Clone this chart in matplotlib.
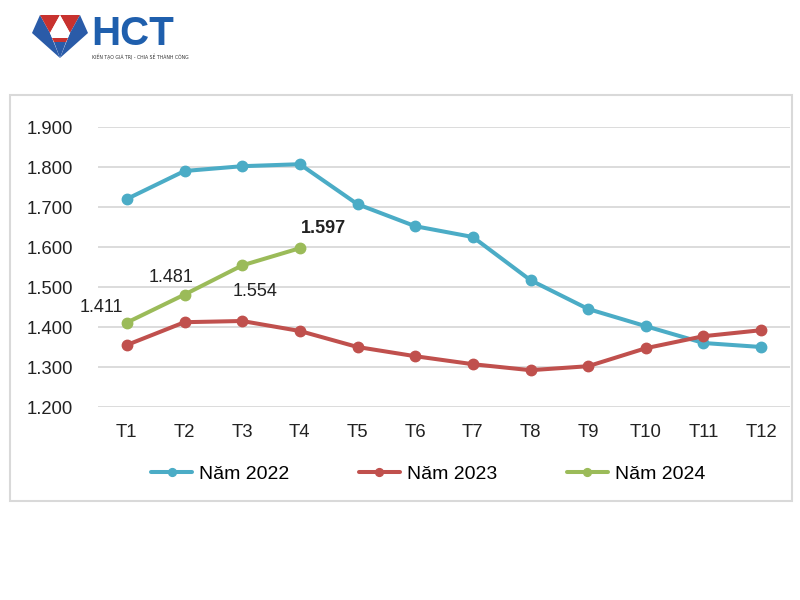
import matplotlib
matplotlib.use("Agg")
import matplotlib.pyplot as plt
from matplotlib.patches import Polygon, Rectangle

plt.rcParams["font.family"] = ["Liberation Sans", "DejaVu Sans"]

months = ["T1", "T2", "T3", "T4", "T5", "T6", "T7", "T8", "T9", "T10", "T11", "T12"]
y2022 = [1720, 1790, 1802, 1807, 1707, 1652, 1625, 1517, 1445, 1402, 1360, 1350]
y2023 = [1355, 1412, 1415, 1390, 1350, 1327, 1307, 1292, 1302, 1347, 1377, 1392]
y2024 = [1411, 1481, 1554, 1597]
series_names = ["Năm 2022", "Năm 2023", "Năm 2024"]
yticks = [1200, 1300, 1400, 1500, 1600, 1700, 1800, 1900]

colors = ["#4BACC6", "#C0504D", "#9BBB59"]


def fmt(v):
    # Vietnamese thousands separator
    return f"{v/1000:.3f}"


fig = plt.figure(figsize=(8, 6), dpi=100)

# background layer in pixel coords: frame + logo
bg = fig.add_axes([0, 0, 1, 1], zorder=0)
bg.set_xlim(0, 800)
bg.set_ylim(600, 0)
bg.axis("off")
bg.add_patch(Rectangle((10, 95), 782, 406, fill=False, edgecolor="#d9d9d9", linewidth=1.5))

L, A, M, B, R = (32, 33), (40, 15), (60, 15), (80, 15), (88, 33)
C1, C2, P = (50, 33), (70, 33), (60, 58)
red, blue = "#C8322F", "#2A5BA8"
for pts, c in [((L, A, C1), blue), ((A, M, C1), red), ((M, B, C2), red),
               ((B, R, C2), blue), ((M, C1, C2), "white"),
               ((L, C1, P), blue), ((C2, R, P), blue),
               ((C1, C2, (60, 42)), "white"), (((54, 42), (66, 42), P), blue),
               ((C1, (54, 42), (66, 42), C2), "white")]:
    bg.add_patch(Polygon(pts, closed=True, facecolor=c, edgecolor="none"))
bg.add_patch(Polygon(((52, 38), (68, 38), (66, 42), (54, 42)), closed=True, facecolor=red, edgecolor="none"))
bg.text(91, 45, "HCT", fontsize=29, fontweight="bold", color="#1F5FAD", ha="left", va="baseline")
bg.text(92, 57, "KIẾN TẠO GIÁ TRỊ - CHIA SẺ THÀNH CÔNG", fontsize=3.3, color="#333333",
        ha="left", va="center", family=["DejaVu Sans"])

ax = fig.add_axes([98 / 800, 193 / 600, 692 / 800, 280 / 600], zorder=1)
ax.patch.set_alpha(0)
x = list(range(1, 13))
for vals, c, name in zip([y2022, y2023, y2024], colors, series_names):
    ax.plot(x[:len(vals)], vals, color=c, linewidth=2.9, marker="o", markersize=7.5,
            label=name, solid_capstyle="round", zorder=3)

offsets = [(-18, 11), (-10, 12), (9, -19), (17, 14)]
for i, (v, off) in enumerate(zip(y2024, offsets)):
    ax.annotate(fmt(v), (x[i], v), xytext=off, textcoords="offset points",
                ha="center", va="center", fontsize=13,
                fontweight="bold" if i == len(y2024) - 1 else "normal", color="#222222")

ax.set_xlim(0.5, 12.5)
ax.set_ylim(1200, 1900)
ax.set_yticks(yticks)
ax.set_yticklabels([fmt(v) for v in yticks])
ax.set_xticks(x)
ax.set_xticklabels(months)
ax.yaxis.grid(True, color="#d9d9d9", linewidth=1.3)
ax.set_axisbelow(True)
for s in ax.spines.values():
    s.set_visible(False)
ax.tick_params(axis="y", length=0, pad=18, labelsize=13.3, labelcolor="#222222")
ax.tick_params(axis="x", length=0, pad=12, labelsize=13.3, labelcolor="#222222")

handles, labels = ax.get_legend_handles_labels()
fig.legend(handles, labels, loc="center", bbox_to_anchor=(428 / 800, 126 / 600), ncol=3,
           frameon=False, fontsize=14, columnspacing=3.6, handlelength=2.1,
           handletextpad=0.35, markerscale=0.75)

fig.savefig("out.png", dpi=100)
